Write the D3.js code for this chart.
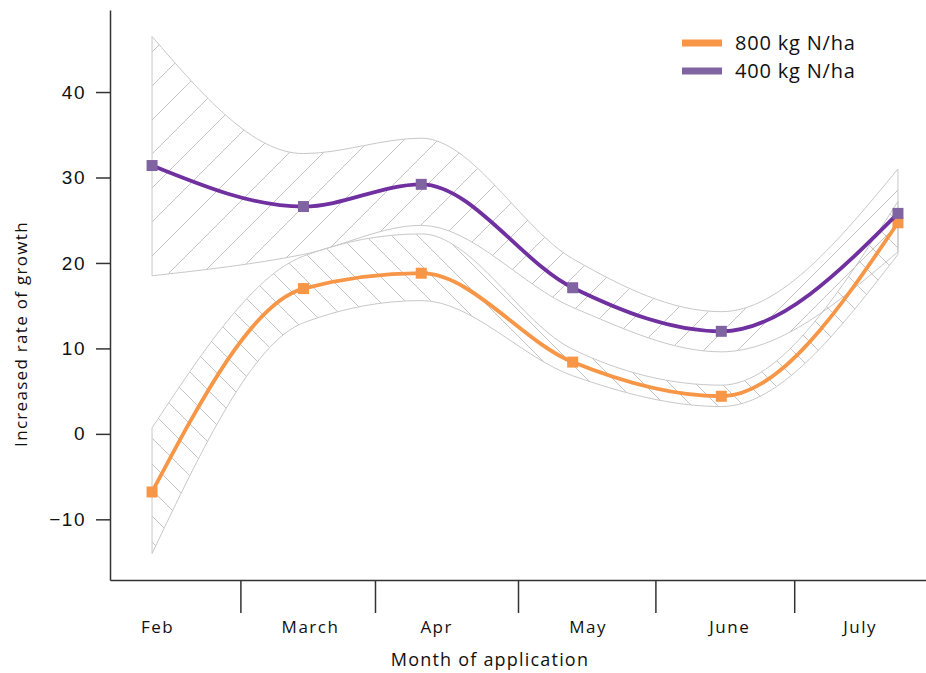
<!DOCTYPE html>
<html>
<head>
<meta charset="utf-8">
<script src="https://cdn.jsdelivr.net/npm/d3@7"></script>
<style>
  body { margin: 0; background: #fff; }
  text { font-family: "Open Sans", sans-serif; fill: #111; }
</style>
</head>
<body>
<div id="plot"></div>
<script>
// Parameters
const svg_w = 926;
const svg_h = 673;

// Month positions (month index units) of the application dates
const appX = [1, 2.08, 2.92, 4, 5.06, 6.32];

// Series values
const n800 = [-6.8, 17.0, 18.8, 8.4, 4.4, 24.7];
const n800Upper = [0.7, 20.8, 23.4, 9.9, 5.7, 27.2];
const n800Lower = [-14.0, 13.0, 15.6, 6.8, 3.2, 21.0];

const n400 = [31.4, 26.6, 29.2, 17.1, 12.0, 25.8];
const n400Upper = [46.5, 32.8, 34.6, 20.5, 14.3, 31.0];
const n400Lower = [18.5, 21.0, 24.4, 14.8, 9.6, 21.3];

// Tick labels
const monthLabels = ["Feb", "March", "Apr", "May", "June", "July"];
const monthLabelX = [1.04, 2.13, 3.03, 4.11, 5.12, 6.05];
const monthBoundaries = [1.63, 2.59, 3.61, 4.59, 5.58];
const yTicks = [-10, 0, 10, 20, 30, 40];

const series = [
  {name: "800 kg N/ha", values: n800, upper: n800Upper, lower: n800Lower,
   line: "#f79646", marker: "#f79646", hatch: "hatch800"},
  {name: "400 kg N/ha", values: n400, upper: n400Upper, lower: n400Lower,
   line: "#7030a0", marker: "#8064a2", hatch: "hatch400"}
];

const svg = d3.select("div#plot")
  .append("svg")
    .attr("width", svg_w)
    .attr("height", svg_h);

const xScale = d3.scaleLinear().domain([0.7, 6.52]).range([110, 926]);
const yScale = d3.scaleLinear().domain([-17.1, 49.6]).range([580, 10]);

// Hatch patterns: "/" for 400, "\" for 800
const defs = svg.append("defs");
function addHatch(id, w, rising) {
  const q = w / 4;
  const d = rising
    ? `M0,${w} L${w},0 M${-q},${q} L${q},${-q} M${w - q},${w + q} L${w + q},${w - q}`
    : `M0,0 L${w},${w} M${-q},${w - q} L${q},${w + q} M${w - q},${-q} L${w + q},${q}`;
  defs.append("pattern")
      .attr("id", id)
      .attr("patternUnits", "userSpaceOnUse")
      .attr("width", w).attr("height", w)
    .append("path")
      .attr("d", d)
      .attr("fill", "none")
      .attr("stroke", "#c4c4c4").attr("stroke-width", 1);
}
addHatch("hatch400", 34, true);
addHatch("hatch800", 26, false);

const curve = d3.curveMonotoneX;

const area = d3.area()
    .x((d, i) => xScale(appX[i]))
    .y0(d => yScale(d.lo))
    .y1(d => yScale(d.hi))
    .curve(curve);

const line = d3.line()
    .x((d, i) => xScale(appX[i]))
    .y(d => yScale(d))
    .curve(curve);

// Bands
series.forEach(s => {
  svg.append("path")
      .datum(s.upper.map((v, i) => ({hi: v, lo: s.lower[i]})))
      .attr("d", area)
      .attr("fill", `url(#${s.hatch})`)
      .attr("stroke", "#c8c8c8")
      .attr("stroke-width", 1);
});

// Lines and markers
series.forEach(s => {
  svg.append("path")
      .datum(s.values)
      .attr("d", line)
      .attr("fill", "none")
      .attr("stroke", s.line)
      .attr("stroke-width", 3.8);
  svg.append("g")
    .selectAll("rect")
    .data(s.values)
    .join("rect")
      .attr("x", (d, i) => xScale(appX[i]) - 5.5)
      .attr("y", d => yScale(d) - 5.5)
      .attr("width", 11)
      .attr("height", 11)
      .attr("fill", s.marker);
});

// Y axis
const yAxis = d3.axisLeft(yScale)
    .tickValues(yTicks)
    .tickSize(14)
    .tickPadding(10)
    .tickSizeOuter(0);
const gy = svg.append("g")
    .attr("transform", "translate(110, 0)")
    .call(yAxis);
gy.select(".domain").attr("stroke", "#333").attr("stroke-width", 1.5);
gy.selectAll(".tick line").attr("stroke", "#333").attr("stroke-width", 1.5);
gy.selectAll(".tick text")
    .style("font-family", "Liberation Sans, sans-serif")
    .style("font-size", "19px")
    .style("letter-spacing", "1.5px")
    .attr("fill", "#1a1a1a");

// X axis (category boundaries as ticks)
const xAxis = d3.axisBottom(xScale)
    .tickValues(monthBoundaries)
    .tickSize(33)
    .tickFormat("")
    .tickSizeOuter(0);
const gx = svg.append("g")
    .attr("transform", "translate(0, 580)")
    .call(xAxis);
gx.select(".domain").attr("stroke", "#333").attr("stroke-width", 1.5);
gx.selectAll(".tick line").attr("stroke", "#333").attr("stroke-width", 1.5);

svg.append("g")
  .selectAll("text")
  .data(monthLabels)
  .join("text")
    .attr("x", (d, i) => xScale(monthLabelX[i]))
    .attr("y", 633)
    .attr("text-anchor", "middle")
    .style("font-size", "17px")
    .style("letter-spacing", "1.5px")
    .attr("fill", "#000")
    .text(d => d);

// Axis titles
svg.append("text")
    .attr("x", 490)
    .attr("y", 666)
    .attr("text-anchor", "middle")
    .style("font-size", "18px")
    .style("letter-spacing", "1.2px")
    .text("Month of application");

svg.append("text")
    .attr("transform", "translate(27, 334) rotate(-90)")
    .attr("text-anchor", "middle")
    .style("font-size", "17px")
    .style("letter-spacing", "1.3px")
    .text("Increased rate of growth");

// Legend
const legend = svg.append("g").attr("transform", "translate(682, 43)");
series.forEach((s, i) => {
  legend.append("line")
      .attr("x1", 0).attr("x2", 40)
      .attr("y1", i * 28).attr("y2", i * 28)
      .attr("stroke", s.marker)
      .attr("stroke-width", 7);
  legend.append("text")
      .attr("x", 53)
      .attr("y", i * 28 + 7)
      .style("font-size", "20px")
      .style("letter-spacing", "0.8px")
      .text(s.name);
});
</script>
</body>
</html>
